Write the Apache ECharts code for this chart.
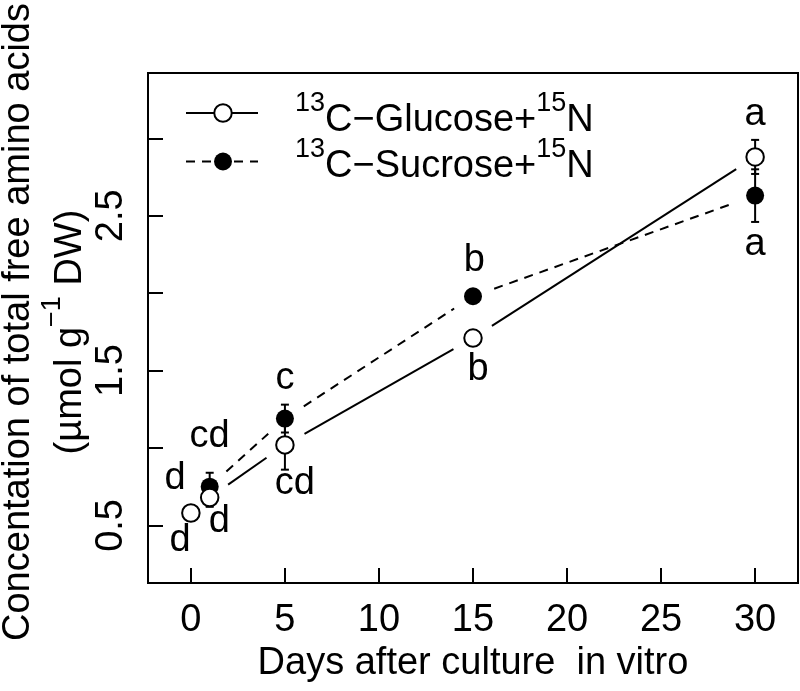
<!DOCTYPE html>
<html><head><meta charset="utf-8">
<script src="https://cdn.jsdelivr.net/npm/echarts@6/dist/echarts.min.js"></script>
<style>html,body{margin:0;padding:0;background:#fff}#c{width:800px;height:691px}</style>
</head><body><div id="c"></div>
<script>
// ---- data ----
const days = [0, 1, 5, 15, 30];
const glucose = [0.58, 0.68, 1.02, 1.71, 2.88];
const sucrose = [0.58, 0.75, 1.19, 1.98, 2.63];
const glucoseErr = [0.02, 0.06, 0.16, 0.04, 0.11];
const sucroseErr = [0.02, 0.09, 0.09, 0.04, 0.17];
const glucoseLetters = ['d', 'd', 'cd', 'b', 'a'];
const sucroseLetters = ['d', 'cd', 'c', 'b', 'a'];
const xTicks = [0, 5, 10, 15, 20, 25, 30];
const yTicks = [0.5, 1, 1.5, 2, 2.5, 3];
const yTickLabels = [0.5, 1.5, 2.5];
const xTitle = 'Days after culture  in vitro';
const yTitle1 = 'Concentation of total free amino acids';

// ---- layout / style ----
const F = '"Liberation Sans", Arial, Helvetica, sans-serif';
const GAP = 22.5;
const glucoseLetterOffsets = [[-10.7, 27], [9.7, 24], [10, 38.7], [5, 31.4], [0, -42]];
const sucroseLetterOffsets = [[-15.7, -34.7], [0, -50.4], [0, -40.3], [1.3, -35.4], [0, 48.7]];

function gapLineSeries(ys, dash, z) {
  const segs = [];
  for (let i = 0; i < days.length - 1; i++) segs.push([days[i], ys[i], days[i + 1], ys[i + 1]]);
  return {
    type: 'custom', z: z, silent: true, animation: false,
    encode: { x: [0, 2], y: [1, 3] },
    data: segs,
    renderItem: function (params, api) {
      const p1 = api.coord([api.value(0), api.value(1)]);
      const p2 = api.coord([api.value(2), api.value(3)]);
      const dx = p2[0] - p1[0], dy = p2[1] - p1[1];
      const len = Math.hypot(dx, dy);
      if (len <= 2 * GAP) return { type: 'group', children: [] };
      const ux = dx / len, uy = dy / len;
      return {
        type: 'line',
        shape: { x1: p1[0] + ux * GAP, y1: p1[1] + uy * GAP, x2: p2[0] - ux * GAP, y2: p2[1] - uy * GAP },
        style: { stroke: '#000', lineWidth: 2, lineDash: dash }
      };
    }
  };
}

function errSeries(ys, errs, z) {
  return {
    type: 'custom', z: z, silent: true, animation: false,
    encode: { x: 0, y: [1, 2] },
    data: days.map((d, i) => [d, ys[i] - errs[i], ys[i] + errs[i]]),
    renderItem: function (params, api) {
      const lo = api.coord([api.value(0), api.value(1)]);
      const hi = api.coord([api.value(0), api.value(2)]);
      const w = 4, st = { stroke: '#000', lineWidth: 2 };
      return {
        type: 'group', children: [
          { type: 'line', shape: { x1: lo[0], y1: lo[1], x2: hi[0], y2: hi[1] }, style: st },
          { type: 'line', shape: { x1: lo[0] - w, y1: lo[1], x2: lo[0] + w, y2: lo[1] }, style: st },
          { type: 'line', shape: { x1: hi[0] - w, y1: hi[1], x2: hi[0] + w, y2: hi[1] }, style: st }
        ]
      };
    }
  };
}

function letterSeries(ys, letters, offs, z) {
  return {
    type: 'custom', z: z, silent: true, animation: false,
    encode: { x: 0, y: 1 },
    data: days.map((d, i) => [d, ys[i]]),
    renderItem: function (params, api) {
      const p = api.coord([api.value(0), api.value(1)]);
      const o = offs[params.dataIndex];
      return {
        type: 'text', x: p[0] + o[0], y: p[1] + o[1],
        style: { text: letters[params.dataIndex], fontSize: 38, fontFamily: F, fill: '#000', align: 'center', verticalAlign: 'middle' }
      };
    }
  };
}

function richLegend(main1, main2) {
  return '{s|13}{m|' + main1 + '}{s|15}{m|' + main2 + '}';
}
const legRich = {
  m: { fontSize: 38, fontFamily: F, lineHeight: 50, verticalAlign: 'bottom', fill: '#000' },
  s: { fontSize: 27, fontFamily: F, verticalAlign: 'top', fill: '#000' }
};
const yRich = {
  m: { fontSize: 38, fontFamily: F, lineHeight: 50, verticalAlign: 'bottom', fill: '#000' },
  s: { fontSize: 27, fontFamily: F, verticalAlign: 'top', fill: '#000' }
};

const chart = echarts.init(document.getElementById('c'), null, { renderer: 'canvas' });
chart.setOption({
  animation: false,
  backgroundColor: '#fff',
  grid: { left: 148, top: 73, width: 650, height: 510, show: true, borderColor: '#000', borderWidth: 2, backgroundColor: 'transparent', containLabel: false, outerBoundsMode: 'none' },
  xAxis: {
    type: 'value', min: -2.28, max: 32.28,
    axisLine: { show: false, onZero: false }, splitLine: { show: false },
    axisTick: { show: true, inside: true, length: 15, lineStyle: { color: '#000', width: 2 }, customValues: xTicks },
    axisLabel: { show: true, customValues: xTicks, margin: 19, color: '#000', fontSize: 38, fontFamily: F },
    name: xTitle, nameLocation: 'middle', nameGap: 58,
    nameTextStyle: { color: '#000', fontSize: 38, fontFamily: F }
  },
  yAxis: {
    type: 'value', min: 0.128, max: 3.422,
    axisLine: { show: false, onZero: false }, splitLine: { show: false },
    axisTick: { show: true, inside: true, length: 15, lineStyle: { color: '#000', width: 2 }, customValues: yTicks },
    axisLabel: { show: true, customValues: yTickLabels, rotate: 90, margin: 17, color: '#000', fontSize: 38, fontFamily: F }
  },
  graphic: [
    { type: 'text', x: 18.7, y: 322, rotation: Math.PI / 2, silent: true,
      style: { text: yTitle1, fontSize: 38, fontFamily: F, fill: '#000', align: 'center', verticalAlign: 'middle' } },
    { type: 'text', x: 64.3, y: 332, rotation: Math.PI / 2, silent: true,
      style: { text: '{m|(µmol g}{s|−1}{m| DW)}', rich: yRich, fill: '#000', align: 'center', verticalAlign: 'middle' } },
    // legend
    { type: 'line', silent: true, shape: { x1: 186, y1: 113, x2: 258, y2: 113 }, style: { stroke: '#000', lineWidth: 2 } },
    { type: 'circle', silent: true, shape: { cx: 223, cy: 113, r: 8.75 }, style: { fill: '#fff', stroke: '#000', lineWidth: 2 } },
    { type: 'text', silent: true, x: 295, y: 90,
      style: { text: richLegend('C−Glucose+', 'N'), rich: legRich, fill: '#000', align: 'left', verticalAlign: 'top' } },
    { type: 'line', silent: true, shape: { x1: 186, y1: 161.5, x2: 258, y2: 161.5 }, style: { stroke: '#000', lineWidth: 2, lineDash: [9, 7] } },
    { type: 'circle', silent: true, shape: { cx: 223, cy: 161.5, r: 9 }, style: { fill: '#000' } },
    { type: 'text', silent: true, x: 295, y: 136,
      style: { text: richLegend('C−Sucrose+', 'N'), rich: legRich, fill: '#000', align: 'left', verticalAlign: 'top' } }
  ],
  series: [
    gapLineSeries(glucose, null, 1),
    gapLineSeries(sucrose, [9, 7], 1),
    errSeries(glucose, glucoseErr, 2),
    errSeries(sucrose, sucroseErr, 2),
    { type: 'scatter', z: 3, silent: true, data: days.map((d, i) => [d, sucrose[i]]), symbol: 'circle', symbolSize: 18,
      itemStyle: { color: '#000', opacity: 1 } },
    { type: 'scatter', z: 4, silent: true, data: days.map((d, i) => [d, glucose[i]]), symbol: 'circle', symbolSize: 17.5,
      itemStyle: { color: '#fff', borderColor: '#000', borderWidth: 2, opacity: 1 } },
    letterSeries(glucose, glucoseLetters, glucoseLetterOffsets, 5),
    letterSeries(sucrose, sucroseLetters, sucroseLetterOffsets, 5)
  ]
});
</script></body></html>
